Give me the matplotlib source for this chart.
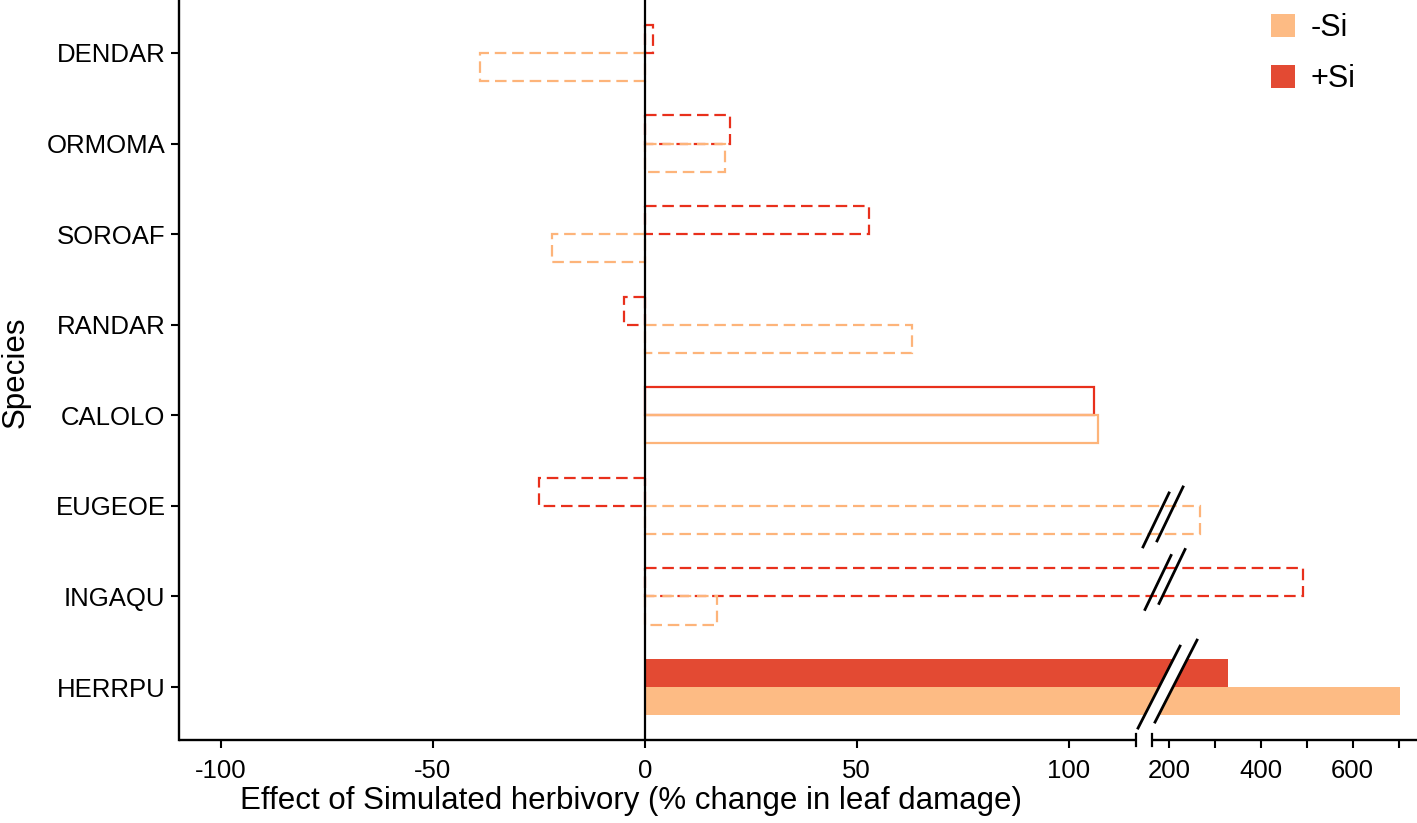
import numpy as np
import matplotlib
matplotlib.use("Agg")
import matplotlib.pyplot as plt
from matplotlib.patches import Patch, Polygon
from matplotlib.lines import Line2D

plt.rcParams['font.family'] = ['Liberation Sans', 'DejaVu Sans']

species = ['DENDAR', 'ORMOMA', 'SOROAF', 'RANDAR', 'CALOLO', 'EUGEOE', 'INGAQU', 'HERRPU']
minus_si = [-39, 19, -22, 63, 107, 267, 17, 704]
plus_si = [2, 20, 53, -5, 106, -25, 492, 329]
# outline style per species: dashed = n.s., solid = marginal, filled = significant
sig = ['ns', 'ns', 'ns', 'ns', 'marginal', 'ns', 'ns', 'sig']

fill_minus, fill_plus = '#FDBB84', '#E34A33'
edge_minus, edge_plus = '#FDB47A', '#E8301C'

# broken x axis: piecewise linear mapping value -> pixel
brk_v = [-110, 117, 160, 740]
brk_px = [178.6, 1139.7, 1149.6, 1415.7]


def fwd(v):
    return np.interp(v, brk_v, brk_px)


def inv(p):
    return np.interp(p, brk_px, brk_v)


W, H = 1417, 823
fig = plt.figure(figsize=(W / 100, H / 100), dpi=100)
ax = fig.add_axes([178.6 / W, 83 / H, 1 - 178.6 / W, 1 - 83 / H])
ax.set_xscale('function', functions=(fwd, inv))
ax.set_xlim(-110, 742)
ax.set_ylim(7.584, -0.584)

h = 0.31
y = np.arange(len(species))
for i, sp in enumerate(species):
    for val, fc, ec, off in ((plus_si[i], fill_plus, edge_plus, -h),
                             (minus_si[i], fill_minus, edge_minus, 0)):
        if sig[i] == 'sig':
            ax.barh(y[i] + off, val, height=h, align='edge', color=fc, edgecolor='none')
        else:
            ls = (0, (5.2, 2.6)) if sig[i] == 'ns' else 'solid'
            ax.barh(y[i] + off, val, height=h, align='edge', facecolor='none',
                    edgecolor=ec, linewidth=1.6, linestyle=ls)

ax.axvline(0, color='black', linewidth=1.6)

ax.set_yticks(y)
ax.set_yticklabels(species)
xt = [-100, -50, 0, 50, 100, 200, 300, 400, 500, 600, 700]
ax.set_xticks(xt)
ax.set_xticklabels([str(t) if t not in (300, 500, 700) else '' for t in xt])
ax.tick_params(axis='both', labelsize=18.5, length=6, width=1.5, colors='black')
ax.tick_params(axis='x', pad=8)

for s in ('top', 'right', 'bottom'):
    ax.spines[s].set_visible(False)
ax.spines['left'].set_linewidth(1.7)

fig.text(631 / W, 22 / H, 'Effect of Simulated herbivory (% change in leaf damage)',
         fontsize=22.5, ha='center', va='center')
fig.text(16 / W, 1 - 372 / H, 'Species', fontsize=22.5, rotation=90, ha='center', va='center')

# broken bottom axis line
fx = lambda p: (p - 178.6) / (W - 178.6)
ax.plot([0, fx(1136)], [0, 0], transform=ax.transAxes, color='black', lw=1.7, clip_on=False,
        solid_capstyle='butt')
ax.plot([fx(1152), 1], [0, 0], transform=ax.transAxes, color='black', lw=1.7, clip_on=False,
        solid_capstyle='butt')
for p in (1136, 1152):
    ax.plot([fx(p), fx(p)], [-0.008, 0.008], transform=ax.transAxes, color='black', lw=1.6,
            clip_on=False)

# break marks across the long bars
fig.canvas.draw()
to_fig = fig.transFigure.inverted()


def slash_pair(xv, yv, hx, hy, gap, white=False):
    cx, cy = ax.transData.transform((xv, yv))
    pts = []
    for k in (0, 1):
        ox = cx + k * gap
        oy = cy + k * 6
        pts.append(((ox - hx, oy - hy), (ox + hx, oy + hy)))
    if white:
        poly = [pts[0][0], pts[0][1], pts[1][1], pts[1][0]]
        poly = to_fig.transform(poly)
        fig.add_artist(Polygon(poly, closed=True, facecolor='white', edgecolor='none',
                               transform=fig.transFigure))
    for a, b in pts:
        xy = to_fig.transform([a, b])
        fig.add_artist(Line2D(xy[:, 0], xy[:, 1], color='black', lw=2.0,
                              transform=fig.transFigure))


slash_pair(inv(1155), y[5] + h / 2, 13, 27, 14)
slash_pair(inv(1157), y[6] - h / 2, 13, 27, 14)
slash_pair(inv(1158), y[7], 21, 41, 17, white=True)

handles = [Patch(facecolor=fill_minus, edgecolor='none', label='-Si'),
           Patch(facecolor=fill_plus, edgecolor='none', label='+Si')]
ax.legend(handles=handles, loc='upper right', bbox_to_anchor=(fx(1355), 1 - 13 / 740),
          frameon=False, fontsize=22, handlelength=0.78, handleheight=0.78, handletextpad=0.5,
          labelspacing=0.7, borderaxespad=0, borderpad=0)

fig.savefig('out.png', dpi=100)
